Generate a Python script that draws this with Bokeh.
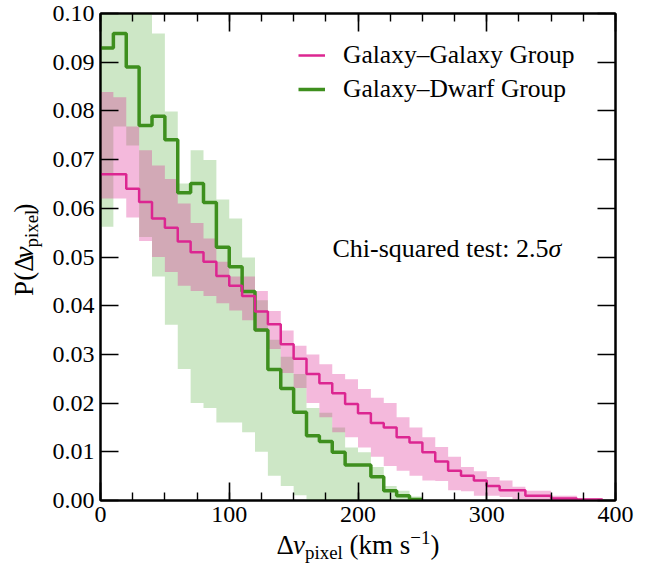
from math import pi

from bokeh.plotting import figure
from bokeh.layouts import column, row
from bokeh.models import (Range1d, LinearAxis, Legend, LegendItem, Label,
                          SingleIntervalTicker, NumeralTickFormatter, CustomJSTickFormatter)
from bokeh.embed import file_html
from bokeh.resources import INLINE

# ---------------------------------------------------------------------------
# Data: normalised histograms of pixel velocity offsets, 10 km/s bins
# ---------------------------------------------------------------------------
bin_width = 10  # km/s

# Galaxy-Galaxy group: median histogram and its uncertainty band
gg_median = [0.0670, 0.0670, 0.0640, 0.0613, 0.0579, 0.0560, 0.0532, 0.0510, 0.0490, 0.0461,
             0.0441, 0.0420, 0.0388, 0.0362, 0.0321, 0.0291, 0.0260, 0.0241, 0.0220, 0.0198,
             0.0179, 0.0159, 0.0150, 0.0130, 0.0119, 0.0099, 0.0080, 0.0061, 0.0051, 0.0041,
             0.0030, 0.0021, 0.0021, 0.0010, 0.0010, 0.0004, 0.0004, 0.0002, 0.0002]
gg_low = [0.0620, 0.0620, 0.0581, 0.0533, 0.0500, 0.0469, 0.0441, 0.0430, 0.0420, 0.0405,
          0.0390, 0.0370, 0.0346, 0.0311, 0.0262, 0.0231, 0.0200, 0.0171, 0.0140, 0.0130,
          0.0109, 0.0090, 0.0071, 0.0061, 0.0051, 0.0041, 0.0040, 0.0021, 0.0019, 0.0010,
          0.0010, 0.0007, 0.0003, 0.0, 0.0, 0.0, 0.0, 0.0, 0.0]
gg_high = [0.0839, 0.0828, 0.0768, 0.0719, 0.0688, 0.0660, 0.0610, 0.0570, 0.0538, 0.0490,
           0.0460, 0.0460, 0.0430, 0.0389, 0.0349, 0.0318, 0.0300, 0.0280, 0.0260, 0.0249,
           0.0229, 0.0211, 0.0200, 0.0171, 0.0150, 0.0130, 0.0110, 0.0090, 0.0069, 0.0060,
           0.0048, 0.0041, 0.0028, 0.0020, 0.0020, 0.0010, 0.0010, 0.0004, 0.0004]

# Galaxy-Dwarf group
gd_median = [0.0929, 0.0959, 0.0890, 0.0770, 0.0789, 0.0741, 0.0632, 0.0651, 0.0612, 0.0520,
             0.0480, 0.0429, 0.0350, 0.0269, 0.0230, 0.0181, 0.0133, 0.0121, 0.0099, 0.0073,
             0.0073, 0.0049, 0.0020, 0.0010, 0.0002]
gd_low = [0.0562, 0.0768, 0.0729, 0.0541, 0.0460, 0.0361, 0.0270, 0.0200, 0.0190, 0.0160,
          0.0160, 0.0140, 0.0100, 0.0051, 0.0030, 0.0011, 0.0, 0.0, 0.0, 0.0,
          0.0, 0.0, 0.0, 0.0, 0.0]
gd_high = [0.1040, 0.1050, 0.1040, 0.1020, 0.0959, 0.0799, 0.0651, 0.0719, 0.0699, 0.0618,
           0.0579, 0.0499, 0.0411, 0.0330, 0.0295, 0.0260, 0.0190, 0.0180, 0.0150, 0.0109,
           0.0099, 0.0069, 0.0030, 0.0020, 0.0008]

series_labels = ["Galaxy\u2013Galaxy Group", "Galaxy\u2013Dwarf Group"]
chi_text = "Chi-squared test: 2.5"
x_ticks_major = 100
y_ticks_major = 0.01

PINK = "#dc2691"
PINK_BAND = "#dd2a95"
GREEN = "#3e8f1e"
GREEN_BAND = "#4aa832"
SERIF = "Liberation Serif"
BASELINE_FIX = 0.35   # em; lifts "alphabetic" labels onto their intended baseline


def edges(values):
    return [i * bin_width for i in range(len(values) + 1)]


def stepped(values):
    # repeat the last value so the final bin is drawn to its right edge
    return list(values) + [values[-1]]


# ---------------------------------------------------------------------------
# Page geometry
# ---------------------------------------------------------------------------
W, H = 647, 563
YT_W = 46            # strip holding the rotated y title
XT_H = 35            # strip holding the x title
MAIN_W, MAIN_H = W - YT_W, H - XT_H
BL, BR, BT, BB = 54, 32, 13, 28

p = figure(width=MAIN_W, height=MAIN_H, x_range=Range1d(0, 400), y_range=Range1d(0, 0.1),
           title=None, output_backend="svg", toolbar_location=None,
           min_border_left=BL, min_border_right=BR, min_border_top=BT, min_border_bottom=BB,
           x_axis_location=None, y_axis_location=None)
p.xgrid.visible = False
p.ygrid.visible = False
p.outline_line_color = "black"
p.outline_line_width = 2
p.background_fill_color = "white"
p.border_fill_color = "white"

# uncertainty bands
p.varea_step(x=edges(gd_low), y1=stepped(gd_low), y2=stepped(gd_high), step_mode="after",
             fill_color=GREEN_BAND, fill_alpha=0.28)
p.varea_step(x=edges(gg_low), y1=stepped(gg_low), y2=stepped(gg_high), step_mode="after",
             fill_color=PINK_BAND, fill_alpha=0.33)

# median histograms
r_gd = p.step(x=edges(gd_median), y=stepped(gd_median), mode="after",
              line_color=GREEN, line_width=3.5)
r_gg = p.step(x=edges(gg_median), y=stepped(gg_median), mode="after",
              line_color=PINK, line_width=2.5)


# ---------------------------------------------------------------------------
# Axes: ticks pointing inwards on all four sides
# ---------------------------------------------------------------------------
def style_axis(ax, labelled):
    ax.axis_line_width = 2
    ax.axis_line_color = "black"
    ax.major_tick_in = 18
    ax.major_tick_out = 0
    ax.minor_tick_in = 8
    ax.minor_tick_out = 0
    ax.major_tick_line_width = 1.6
    ax.minor_tick_line_width = 1.4
    ax.major_tick_line_color = "black"
    ax.minor_tick_line_color = "black"
    ax.major_label_text_font = SERIF
    ax.major_label_text_font_size = "24px"
    ax.major_label_text_color = "black"
    ax.major_label_standoff = 6 if labelled else 0


blank = CustomJSTickFormatter(code="return ''")
for loc, labelled in (("below", True), ("above", False)):
    ax = LinearAxis(ticker=SingleIntervalTicker(interval=x_ticks_major, num_minor_ticks=4),
                    formatter=NumeralTickFormatter(format="0") if labelled else blank)
    style_axis(ax, labelled)
    p.add_layout(ax, loc)

for loc, labelled in (("left", True), ("right", False)):
    ax = LinearAxis(ticker=SingleIntervalTicker(interval=y_ticks_major, num_minor_ticks=0),
                    formatter=NumeralTickFormatter(format="0.00") if labelled else blank)
    style_axis(ax, labelled)
    p.add_layout(ax, loc)

F = 26               # annotation size
FT_ = 27             # axis title size
S = 0.7 * FT_
SP = 0.25 * FT_      # width of a space
FL, FT, FB = YT_W + BL, BT, MAIN_H - BB   # frame edges in page pixels
FR = W - BR


def px_to_x(px):
    return (px - FL) / (FR - FL) * 400.0


def py_to_y(py):
    return (FB - py) / (FB - FT) * 0.1


# annotation inside the axes
chi_x, chi_base = 332, 257 - BASELINE_FIX * F
p.add_layout(Label(x=px_to_x(chi_x), y=py_to_y(chi_base), text=chi_text,
                   text_font=SERIF, text_font_size=f"{F}px", text_color="black",
                   text_align="left", text_baseline="alphabetic"))
p.add_layout(Label(x=px_to_x(chi_x + 8.305 * F), y=py_to_y(chi_base), text="\u03c3",
                   text_font=SERIF, text_font_size=f"{F}px", text_font_style="italic",
                   text_color="black", text_align="left", text_baseline="alphabetic"))

# legend (location is the legend's lower-left corner, measured from the frame's lower-left)
legend = Legend(items=[LegendItem(label=series_labels[0], renderers=[r_gg]),
                       LegendItem(label=series_labels[1], renderers=[r_gd])],
                location=(198, (FB - FT) - 27 - 64), orientation="vertical",
                label_text_font=SERIF, label_text_font_size="25.5px",
                label_text_color="black", label_standoff=18,
                glyph_width=27, glyph_height=30, label_height=30, spacing=4,
                padding=0, margin=0, border_line_color=None,
                background_fill_alpha=0.0)
p.add_layout(legend)


# ---------------------------------------------------------------------------
# Axis titles, each in its own blank strip (pixel coordinates, y upwards)
# ---------------------------------------------------------------------------
def strip(w, h):
    f = figure(width=w, height=h, x_range=Range1d(0, w), y_range=Range1d(0, h),
               title=None, output_backend="svg", toolbar_location=None,
               min_border=0, x_axis_location=None, y_axis_location=None)
    f.xgrid.visible = False
    f.ygrid.visible = False
    f.outline_line_color = None
    f.background_fill_color = "white"
    f.border_fill_color = "white"
    return f


def piece(f, text, x, y, size, style="normal", angle=0.0):
    f.add_layout(Label(x=x, y=y, text=text, text_font=SERIF,
                       text_font_size=f"{size:.1f}px", text_font_style=style,
                       text_color="black", text_align="left", text_baseline="alphabetic",
                       angle=angle))


# x title: Δv_pixel (km s^-1); (gap before, text, size, style, shift, advance)
xt = strip(W, XT_H)
x_parts = [(0, "\u0394", FT_, "normal", 0, 0.612 * FT_),
           (0, "v", FT_, "italic", 0, 0.444 * FT_),
           (0, "pixel", S, "normal", -5, 2.0 * S),
           (SP, "(km s", FT_, "normal", 0, 2.25 * FT_),
           (0, "\u22121", S, "normal", 10, 1.064 * S),
           (0, ")", FT_, "normal", 0, 0.333 * FT_)]
total = sum(g + w for g, *_, w in x_parts)
cur = (FL + FR) / 2 - total / 2
x_base = H - 554
for gap, text, size, style, dy, w in x_parts:
    cur += gap
    piece(xt, text, cur, x_base + dy + BASELINE_FIX * size, size, style)
    cur += w

# y title: P(Δv_pixel), reading upwards
yt = strip(YT_W, MAIN_H)
y_parts = [("P(\u0394", FT_, "normal", 0, 1.501 * FT_),
           ("v", FT_, "italic", 0, 0.444 * FT_),
           ("pixel", S, "normal", 5, 2.0 * S),
           (")", FT_, "normal", 0, 0.333 * FT_)]
total = sum(w for *_, w in y_parts)
cur = (MAIN_H - (FT + FB) / 2) - total / 2
y_base = 33
for text, size, style, dx, w in y_parts:
    piece(yt, text, y_base + dx - BASELINE_FIX * size, cur, size, style, angle=pi / 2)
    cur += w

layout = column(row(yt, p, spacing=0), xt, spacing=0)
open("out.html", "w").write(file_html(layout, INLINE))
